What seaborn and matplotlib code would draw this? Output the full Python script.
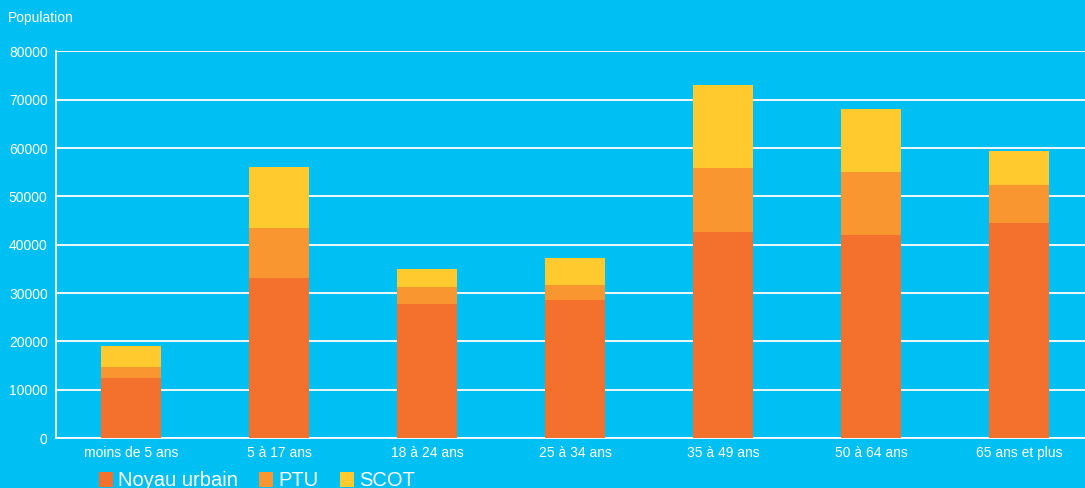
import matplotlib
matplotlib.use("Agg")
import matplotlib.pyplot as plt
import seaborn as sns
import numpy as np
import pandas as pd
from matplotlib.patches import Patch

categories = ["moins de 5 ans", "5 à 17 ans", "18 à 24 ans", "25 à 34 ans",
              "35 à 49 ans", "50 à 64 ans", "65 ans et plus"]
noyau = [12400, 33200, 27800, 28600, 42700, 42100, 44400]
ptu = [2300, 10300, 3500, 3100, 13100, 13000, 8000]
scot = [4400, 12500, 3700, 5600, 17200, 13100, 7100]
yticks = [0, 10000, 20000, 30000, 40000, 50000, 60000, 70000, 80000]

BG = "#00BFF3"
C_NOYAU = "#F3702D"
C_PTU = "#FA962F"
C_SCOT = "#FFCA2E"

sns.set_theme(style="white")
plt.rcParams["font.family"] = ["Liberation Sans", "DejaVu Sans"]

df = pd.DataFrame({"cat": categories, "noyau": noyau, "ptu": ptu, "scot": scot})
df["l1"] = df["noyau"]
df["l2"] = df["noyau"] + df["ptu"]
df["l3"] = df["l2"] + df["scot"]

fig = plt.figure(figsize=(10.85, 4.88), dpi=100, facecolor=BG)
ax = fig.add_axes([56 / 1085, 50 / 488, 1 - 56 / 1085, 386.5 / 488])
ax.set_facecolor(BG)

ax.set_axisbelow(True)
ax.yaxis.grid(True, color="white", linewidth=1.3)
ax.xaxis.grid(False)

for col, c in [("l3", C_SCOT), ("l2", C_PTU), ("l1", C_NOYAU)]:
    sns.barplot(data=df, x="cat", y=col, order=categories, color=c,
                saturation=1, width=0.405, ax=ax, linewidth=0, zorder=3)

ax.set_ylim(0, 80000)
ax.set_xlim(-0.507, 6.446)
ax.set_yticks(yticks)
ax.set_yticklabels([str(v) for v in yticks])
ax.set_xlabel("")
ax.set_ylabel("")

for s in ["top", "right"]:
    ax.spines[s].set_visible(False)
for s in ["left", "bottom"]:
    ax.spines[s].set_visible(True)
    ax.spines[s].set_color("white")
    ax.spines[s].set_linewidth(1.3)

ax.tick_params(axis="both", length=0, colors="white", labelsize=10)
ax.tick_params(axis="y", pad=6)
ax.tick_params(axis="x", pad=6)

fig.text(8 / 1085, 1 - 18 / 488, "Population", color="white", fontsize=10,
         ha="left", va="center")

handles = [Patch(facecolor=C_NOYAU, edgecolor="none", label="Noyau urbain"),
           Patch(facecolor=C_PTU, edgecolor="none", label="PTU"),
           Patch(facecolor=C_SCOT, edgecolor="none", label="SCOT")]
leg = fig.legend(handles=handles, loc="center left",
                 bbox_to_anchor=(99 / 1085, 1 - 481 / 488), ncol=3,
                 frameon=False, fontsize=14.5, handlelength=0.7,
                 handleheight=0.7, handletextpad=0.25, columnspacing=1.05,
                 borderaxespad=0, borderpad=0)
for t in leg.get_texts():
    t.set_color("white")

fig.savefig("out.png", dpi=100, facecolor=BG)
